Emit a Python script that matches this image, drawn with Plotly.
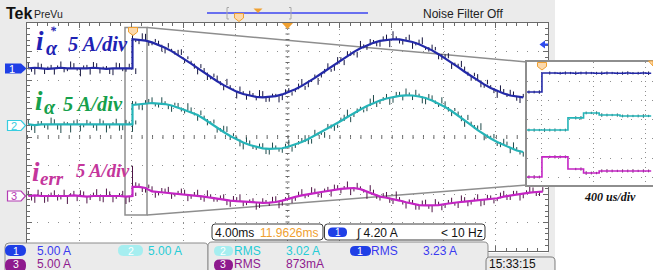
import plotly.graph_objects as go

W, H = 653, 270

# ---------------- data ----------------
T_STEP = 8.1      # ms, instant of the reference step (trigger)
DT = 0.5          # ms, sample spacing used for the readings
A_PER_DIV = 5.0   # all channels 5 A/div

# main window, values in A
ch1_pre = [0.0, 0.1, 0.0, -0.1, 0.0, 0.1, 0.0, 0.0, -0.1, 0.0, 0.1, 0.0, -0.1, 0.0, 0.0, 0.1, 0.0]
ch1_post = [5.10, 5.04, 4.85, 4.55, 4.14, 3.62, 3.02, 2.34, 1.61, 0.83,
            0.04, -0.75, -1.53, -2.27, -2.95, -3.56, -4.09, -4.51, -4.83, -5.02,
            -5.10, -5.05, -4.88, -4.58, -4.18, -3.68, -3.08, -2.41, -1.69, -0.91,
            -0.12, 0.67, 1.46, 2.20, 2.89, 3.50, 4.04, 4.47, 4.80, 5.01,
            5.10, 5.06, 4.90, 4.62, 4.23, 3.73, 3.15, 2.48, 1.76, 0.99,
            0.20, -0.60, -1.38, -2.12, -2.82, -3.45, -3.99, -4.43, -4.77, -4.99,
            -5.09]
ch2_pre = [0.1, 0.0, 0.1, 0.1, 0.0, 0.1, 0.0, 0.1, 0.1, 0.0, 0.1, 0.0, 0.1, 0.1, 0.0, 0.1, 0.1]
ch2_post = [3.51, 3.60, 3.77, 3.86, 3.77, 3.68, 3.42, 3.07, 2.63, 2.19,
            1.75, 1.05, 0.26, -0.53, -1.23, -1.93, -2.54, -3.07, -3.51, -3.86,
            -4.09, -4.18, -4.18, -4.07, -3.77, -3.42, -2.98, -2.46, -1.84, -1.23,
            -0.61, 0.09, 0.70, 1.40, 2.11, 2.72, 3.33, 3.86, 4.30, 4.65,
            4.91, 5.12, 5.21, 5.18, 5.00, 4.74, 4.30, 3.77, 3.16, 2.46,
            1.67, 0.88, 0.00, -0.88, -1.67, -2.37, -2.98, -3.51, -4.04, -4.47,
            -4.74]
ch3_pre = [0.0, 0.1, 0.0, 0.0, -0.1, 0.0, 0.0, 0.1, 0.0, -0.1, 0.0, 0.0, 0.1, 0.0, 0.0, -0.1, 0.0]
ch3_post = [1.6, 1.6, 1.4, 0.8, 0.7, 0.6, 0.5, 0.4, 0.3, 0.2,
            0.1, -0.1, -0.3, -0.5, -0.6, -0.8, -0.9, -1.0, -1.1, -1.2,
            -1.2, -1.15, -1.05, -0.8, -0.45, -0.15, 0.1, 0.35, 0.5, 0.7,
            0.9, 1.1, 1.25, 1.35, 1.4, 1.2, 0.8, 0.3, -0.1, -0.3,
            -0.5, -0.8, -1.1, -1.4, -1.6, -1.65, -1.65, -1.6, -1.4, -1.2,
            -1.1, -1.0, -0.9, -0.8, -0.7, -0.6, -0.4, -0.1, 0.1, 0.3,
            0.5, 0.6, 0.7, 0.75]

# raw-acquisition spikes around the traces (A): one set on the samples, one half a sample later
n1_pre = [1.0, -1.2, 0.8, 0.4, -1.1, 1.1, -0.5, 0.9, -1.3, 0.6, 1.0, -0.9, 0.5, -1.2, 0.9, -0.7, 1.1]
n1_post = [0.9, -0.8, 1.2, -0.5, 0.7, -1.0, 0.4, 0.9, -0.7, 0.5, -1.1, 0.8, -0.4, 1.0, -0.9, 0.6,
           -1.2, 0.5, 0.9, -0.6, 1.1, -0.8, 0.4, -1.0, 0.7, -0.5, 1.2, -0.9, 0.6, -0.7, 1.0, -1.1,
           0.5, 0.8, -0.6, 1.3, -0.8, 0.5, -1.0, 0.9, 1.4, -0.7, 0.6, -1.2, 0.8, -0.5, 1.0, -0.9,
           0.7, -1.1, 0.6, 0.9, -0.8, 1.1, -0.6, 0.5, -1.2, 0.8, 1.0, -0.7, 0.6]
n1b_pre = [-0.6, 0.9, -1.0, 0.7, 0.5, -0.8, 1.2, -0.4, 0.6, -1.1, 0.8, 0.3, -0.9, 1.0, -0.5, 0.7, -1.0]
n1b_post = [-0.5, 1.1, -0.9, 0.6, -1.2, 0.8, -0.6, 1.0, 0.5, -0.9, 0.7, -1.3, 0.6, -0.7, 1.1, -0.4,
            0.9, -1.0, 0.5, 1.2, -0.8, 0.6, -1.1, 0.9, -0.6, 1.0, -0.7, 0.5, -1.2, 0.8, -0.5, 1.3,
            -0.9, 0.6, -1.0, 0.7, 1.1, -0.6, 0.8, -1.3, 0.5, -0.9, 1.0, -0.6, 1.2, -0.8, 0.6, -1.0,
            0.9, -0.5, 1.1, -0.7, 0.6, -1.2, 0.8, -0.9, 1.0, -0.6, 0.7, -1.1, 0.5]
n2_pre = [0.8, -1.4, 0.6, -0.9, 1.0, -1.5, 0.5, 0.7, -1.2, 0.9, -0.6, 1.1, -1.4, 0.4, -1.0, 0.8, -1.3]
n2_post = [0.7, -0.9, 0.6, 1.0, -0.7, 0.5, -1.1, 0.8, -0.6, 0.9, -1.0, 0.6, 0.4, -0.8, 1.1, -0.7,
           0.5, -1.2, 0.8, -0.5, 0.9, -1.0, 0.6, -0.8, 1.2, -0.6, 0.7, -0.9, 1.0, -0.5, 0.8, -1.1,
           0.6, 1.3, -0.7, 0.5, -0.9, 1.4, -0.6, 0.8, -1.0, 0.7, 1.2, -0.8, 0.5, -1.1, 0.9, -0.6,
           1.0, -0.9, 0.7, -1.2, 0.6, 0.8, -1.0, 0.5, -0.7, 1.1, -0.9, 0.6, -0.8]
n2b_pre = [-1.0, 0.7, -0.6, 1.2, -0.8, 0.5, -1.3, 0.9, -0.5, 0.6, -1.1, 0.8, -0.7, 1.0, -0.9, 0.5, 0.7]
n2b_post = [0.6, -1.0, 0.8, -0.6, 1.1, -0.9, 0.5, -0.7, 1.2, -0.5, 0.8, -1.1, 0.7, -0.6, 1.0, 0.5,
            -1.2, 0.9, -0.7, 0.6, -1.0, 1.1, -0.5, 0.8, -0.9, 0.6, 1.2, -0.8, 0.5, -1.0, 0.7, -0.6,
            1.1, -0.9, 0.8, -0.5, 1.3, -0.7, 0.6, -1.1, 0.9, -0.8, 0.5, 1.0, -1.2, 0.7, -0.6, 1.1,
            -0.8, 0.5, -1.0, 0.9, -0.7, 1.2, -0.6, 0.8, -0.9, 0.6, 1.0, -0.7, 0.5]
n3_pre = [0.9, -1.3, 0.7, -1.0, 1.1, -0.6, -1.4, 0.8, 1.0, -1.2, 0.6, -0.9, 1.2, -1.1, 0.5, -1.3, 0.8]
n3_post = [3.7, 0.6, -0.8, 0.9, -0.6, 0.7, -1.0, 0.5, 0.8, -0.7, 1.0, -0.9, 0.6, -0.5, 0.9, -1.1,
           0.7, -0.8, 0.5, -1.2, 0.8, -0.6, 1.0, -0.9, 0.6, -0.7, 1.1, -0.5, 0.8, -1.0, 0.7, 0.9,
           -0.8, 1.2, -0.6, 0.5, -1.3, 0.8, -0.7, 1.0, -0.9, 0.6, -1.1, 0.7, -0.8, 1.0, -1.2, 0.6,
           -0.7, 0.9, -1.0, 0.8, -0.6, 1.1, -0.9, 0.7, -0.5, 1.0, -0.8, 0.6, -0.9, 1.1, -0.7, 0.8]
n3b_pre = [-0.8, 1.0, -1.2, 0.6, -0.7, 1.1, 0.5, -1.0, 0.8, -0.6, 1.2, -1.1, 0.7, -0.5, 0.9, -1.0, 0.6]
n3b_post = [0.8, -0.9, 0.6, -1.1, 0.7, 1.0, -0.6, 0.9, -1.2, 0.5, -0.8, 1.1, -0.7, 0.6, -1.0, 0.8,
            1.2, -0.6, 0.7, -0.9, 0.5, 1.0, -1.1, 0.6, -0.8, 0.9, -0.5, 1.2, -0.7, 0.6, -1.0, 0.8,
            0.5, -1.2, 0.9, -0.6, 1.1, -0.8, 0.6, -0.9, 1.3, -0.7, 0.5, -1.0, 0.8, -0.6, 1.1, -0.9,
            0.7, -0.5, 1.2, -0.8, 0.6, -1.0, 0.9, -0.7, 1.0, -0.6, 0.8, -1.1, 0.5, 0.9, -0.7, 0.6]

# zoomed inset (400 us/div), time relative to the step, values in A
ins_t = [-0.12, -0.08, -0.04, 0.00, 0.04, 0.08, 0.12, 0.16, 0.20, 0.24, 0.28, 0.32, 0.36,
         0.40, 0.44, 0.48, 0.52, 0.56, 0.60, 0.64, 0.68, 0.72, 0.76, 0.80, 0.84]
ins_ch1 = [0.0, 0.0, 0.0, 5.0, 5.0, 5.0, 4.95, 5.0, 5.0, 4.95, 5.0, 5.0, 5.0,
           4.95, 4.95, 5.0, 5.0, 4.95, 4.95, 5.0, 4.95, 4.95, 5.0, 4.95, 4.95]
ins_ch2 = [0.0, 0.0, 0.0, 0.0, 0.0, 0.0, 0.0, 0.0, 3.2, 3.2, 3.2, 4.5, 4.5,
           4.5, 3.95, 3.95, 3.95, 3.95, 3.7, 3.7, 3.7, 3.7, 3.7, 3.7, 3.7]
ins_ch3 = [0.0, 0.0, 0.0, 5.3, 5.3, 5.3, 5.3, 5.3, 2.1, 2.1, 2.1, 1.05, 1.05,
           1.05, 1.6, 1.6, 1.6, 1.6, 1.6, 1.6, 1.6, 1.6, 1.6, 1.6, 1.6]
ins_n1 = [0.8, 0.7, 0.9, 0.0, 0.8, 0.6, 0.7, 0.8, 0.6, 0.9, 0.7, 0.8, 0.6, 0.7, 0.9, 0.8, 0.6, 0.7, 0.8, 0.9, 0.6, 0.7, 0.8, 0.9, 0.6]
ins_n2 = [0.7, 0.8, 0.6, 0.9, 0.7, 0.8, 0.6, 0.7, 0.0, 0.8, 0.9, 0.7, 0.6, 0.8, 0.9, 0.7, 0.6, 0.8, 0.7, 0.8, 0.6, 0.7, 0.9, 0.6, 0.8]
ins_n3 = [0.8, 0.9, 0.7, 0.0, 0.6, 0.8, 0.7, 0.7, 0.0, 0.6, 0.8, 0.9, 0.7, 0.6, 0.8, 0.9, 0.7, 0.6, 0.8, 0.7, 0.9, 0.6, 0.8, 0.7, 0.6]

# readouts
scale_labels = ["5.00 A", "5.00 A", "5.00 A"]
rms_labels = ["3.23 A", "3.02 A", "873mA"]
time_div = "4.00ms"
h_pos = "11.9626ms"
trig_level = "4.20 A"
trig_freq = "< 10 Hz"
clock = "15:33:15"

# ---------------- styling ----------------
OFF_MAIN = (2.41, 0.42, -2.07)   # channel ground positions, divisions
OFF_INS = (4.47, 2.47, 0.0)
C_LINE = ("#2329a8", "#25b4b8", "#c424c4")
C_RAW = ("#14143e", "#1e4a4a", "#4e1446")
C_LAB = ("#1e22b4", "#16a04c", "#c4369c")
GRID = "#8f8f8f"
BORDER = "#6a6a6a"
FRAME = "#ebebeb"
ORANGE = "#f0a030"
SANS = "Liberation Sans Narrow, Liberation Sans, Arial, sans-serif"
SERIF = "Liberation Serif, Times New Roman, serif"


def px(x):
    return x / W


def py(y):
    return 1 - y / H


def series(pre, post):
    t = [T_STEP - DT * (len(pre) - 1 - i) for i in range(len(pre))]
    t += [T_STEP + DT * i for i in range(len(post))]
    return t, pre + post


def spikes(t, v, n, off, shift=0.0, centered=False):
    xs, ys = [], []
    for ti, vi, ni in zip(t, v, n):
        base = off + vi / A_PER_DIV
        if centered:
            y0, y1 = base - ni / (2 * A_PER_DIV), base + ni / (2 * A_PER_DIV)
        else:
            y0, y1 = base, base + ni / A_PER_DIV
        xs += [ti + shift, ti + shift, None]
        ys += [y0, y1, None]
    return xs, ys


fig = go.Figure()

main = [(ch1_pre, ch1_post, n1_pre + n1_post, n1b_pre + n1b_post),
        (ch2_pre, ch2_post, n2_pre + n2_post, n2b_pre + n2b_post),
        (ch3_pre, ch3_post, n3_pre + n3_post, n3b_pre + n3b_post)]
for k, (pre, post, na, nb) in enumerate(main):
    t, v = series(pre, post)
    sx, sy = spikes(t, v, na, OFF_MAIN[k])
    bx, by = spikes(t[:-1], v[:-1], nb, OFF_MAIN[k], shift=DT / 2)
    fig.add_trace(go.Scatter(x=sx + bx, y=sy + by, mode="lines",
                             line=dict(color=C_RAW[k], width=1),
                             xaxis="x", yaxis="y", hoverinfo="skip"))
    fig.add_trace(go.Scatter(x=t, y=[OFF_MAIN[k] + a / A_PER_DIV for a in v], mode="lines",
                             line=dict(color=C_LINE[k], width=2.2), xaxis="x", yaxis="y",
                             hoverinfo="skip"))

for k, (vals, nz) in enumerate([(ins_ch1, ins_n1), (ins_ch2, ins_n2), (ins_ch3, ins_n3)]):
    sx, sy = spikes(ins_t, vals, nz, OFF_INS[k], shift=0.02, centered=True)
    fig.add_trace(go.Scatter(x=sx, y=sy, mode="lines", line=dict(color=C_RAW[k], width=1),
                             xaxis="x2", yaxis="y2", hoverinfo="skip"))
    fig.add_trace(go.Scatter(x=ins_t, y=[OFF_INS[k] + a / A_PER_DIV for a in vals], mode="lines",
                             line=dict(color=C_LINE[k], width=1.6, shape="hv"),
                             xaxis="x2", yaxis="y2", hoverinfo="skip"))

shapes = []


def prect(x0, y0, x1, y1, fill=None, line=None, lw=1, layer="below"):
    shapes.append(dict(type="rect", xref="paper", yref="paper", x0=px(x0), x1=px(x1),
                       y0=py(y1), y1=py(y0), fillcolor=fill or "rgba(0,0,0,0)",
                       line=dict(color=line or "rgba(0,0,0,0)", width=lw if line else 0),
                       layer=layer))


def pline(x0, y0, x1, y1, color, lw=1, dash="solid", layer="below"):
    shapes.append(dict(type="line", xref="paper", yref="paper", x0=px(x0), y0=py(y0),
                       x1=px(x1), y1=py(y1), line=dict(color=color, width=lw, dash=dash),
                       layer=layer))


def ppath(points, fill=None, line=None, lw=1, layer="below", close=True):
    d = "M" + " L".join(f"{px(x):.5f},{py(y):.5f}" for x, y in points)
    if close:
        d += " Z"
    shapes.append(dict(type="path", xref="paper", yref="paper", path=d,
                       fillcolor=fill or "rgba(0,0,0,0)",
                       line=dict(color=line or "rgba(0,0,0,0)", width=lw if line else 0),
                       layer=layer))


def rrect(x0, y0, x1, y1, r, fill, line=None, lw=1, layer="above"):
    def P(x, y):
        return f"{px(x):.5f},{py(y):.5f}"
    d = (f"M{P(x0 + r, y0)} L{P(x1 - r, y0)} Q{P(x1, y0)} {P(x1, y0 + r)} "
         f"L{P(x1, y1 - r)} Q{P(x1, y1)} {P(x1 - r, y1)} L{P(x0 + r, y1)} "
         f"Q{P(x0, y1)} {P(x0, y1 - r)} L{P(x0, y0 + r)} Q{P(x0, y0)} {P(x0 + r, y0)} Z")
    shapes.append(dict(type="path", xref="paper", yref="paper", path=d, fillcolor=fill,
                       line=dict(color=line or "rgba(0,0,0,0)", width=lw if line else 0),
                       layer=layer))


# frame & screen background
prect(0, 0, 555, 270, fill=FRAME)
prect(27, 23, 548, 253, fill="white")
# zoom window box and connecting lines
prect(125, 27.5, 147, 215, line="#8e8e8e", lw=1.5)
pline(147, 27.5, 527, 62, "#8e8e8e", 1.5)
pline(147, 215, 527, 185, "#8e8e8e", 1.5)

# center cross tick marks (below inset)
shapes.append(dict(type="line", xref="x", yref="y", x0=20, x1=20, y0=-4, y1=4,
                   line=dict(color=BORDER, width=4, dash="1px,4.7px"), layer="below"))
shapes.append(dict(type="line", xref="x", yref="y", x0=0, x1=40, y0=0, y1=0,
                   line=dict(color=BORDER, width=4, dash="1px,9.42px"), layer="below"))
# inset white backing (drawn in the inset subplot, above the main subplot)
shapes.append(dict(type="rect", xref="x2", yref="y2", x0=-0.115, x1=0.854, y0=-0.42, y1=6.05,
                   fillcolor="white", line=dict(width=0), layer="below"))

# top bar
pline(207, 13, 368, 13, "#3c46f0", 1.4)
ppath([(229, 7.5), (227, 7.5), (227, 19), (229, 19)], line="#a8a8a8", lw=1, close=False)
ppath([(289, 7.5), (291, 7.5), (291, 19), (289, 19)], line="#a8a8a8", lw=1, close=False)
ppath([(253.5, 8.5), (262.5, 8.5), (258, 13)], fill=ORANGE)
ppath([(234.5, 13.5), (243.5, 13.5), (243.5, 18), (239, 21.5), (234.5, 18)], fill="#fcd9ac", line=ORANGE)
# markers on screen
ppath([(282, 23), (293, 23), (287.5, 29)], fill=ORANGE, layer="above")
ppath([(128.5, 27.5), (137.5, 27.5), (137.5, 32), (133, 35.5), (128.5, 32)], fill="#fcd9ac", line=ORANGE, layer="above")
ppath([(537.5, 62.5), (546.5, 62.5), (546.5, 66.5), (542, 70), (537.5, 66.5)], fill="#fcd9ac", line=ORANGE, layer="above")
ppath([(648.5, 61), (653, 61), (653, 66)], fill="#fcd9ac", line=ORANGE, layer="above")
ppath([(539.5, 44.5), (545, 40.5), (545, 48.5)], fill="#2f4cf0", layer="above")
pline(545, 44.5, 548, 44.5, "#2f4cf0", 2, layer="above")

# channel ground markers
ppath([(5, 63.5), (21, 63.5), (26.5, 68.5), (21, 73.5), (5, 73.5)], fill="#1f3fe6")
ppath([(7.5, 120.5), (21, 120.5), (25.5, 125.5), (21, 130.5), (7.5, 130.5)], fill="white", line="#38cde0", lw=1.2)
ppath([(7.5, 191), (21, 191), (25.5, 196), (21, 201), (7.5, 201)], fill="white", line="#b43cb4", lw=1.2)

# readout boxes and panels
rrect(212, 224, 323, 240, 3, "white", "#3c3c3c", 1)
rrect(324.5, 224, 485, 240, 3, "white", "#3c3c3c", 1)
rrect(328, 227.5, 347, 237, 4.5, "#1f3fe6")
rrect(5, 243, 208, 278, 4, FRAME, "#8c8c8c", 1)
rrect(208, 242, 488, 278, 4, FRAME, "#8c8c8c", 1)
rrect(486, 257, 555, 278, 4, FRAME, "#7c7c7c", 1)
rrect(5, 245, 26, 256, 5.5, "#1f3fe6")
rrect(118, 245, 143, 256, 5.5, "#a6eef0")
rrect(5, 259, 26, 272, 6, "#8e1a8e")
rrect(214, 246, 233, 256, 5, "#a6eef0")
rrect(350, 246, 371, 256, 5, "#1f3fe6")
rrect(214, 259.5, 233, 271, 5.5, "#8e1a8e")

ann = []


def txt(x, y, s, size, color, family=SANS, xanchor="left"):
    ann.append(dict(x=px(x), y=py(y), xref="paper", yref="paper", text=s, showarrow=False,
                    xanchor=xanchor, yanchor="middle", font=dict(size=size, color=color, family=family),
                    borderpad=0))


txt(5, 13.5, "<b>Tek</b>", 16, "#111111", "Liberation Sans, Arial, sans-serif")
txt(33, 14.5, "PreVu", 10.5, "#222222")
txt(422, 14.5, "Noise Filter Off", 12, "#222222")
txt(12.5, 68.5, "1", 11, "white", xanchor="center")
txt(14, 125.5, "2", 11, "#38cde0", xanchor="center")
txt(14, 196, "3", 11, "#b43cb4", xanchor="center")

# channel labels
txt(35, 41, "<b><i>i</i></b>", 27, C_LAB[0], SERIF)
txt(45, 48.5, "<b><i>α</i></b>", 20, C_LAB[0], SERIF)
txt(49, 31, "<b><i>*</i></b>", 12, C_LAB[0], SERIF)
txt(67, 44, "<b><i>5 A/div</i></b>", 20.5, C_LAB[0], SERIF)
txt(34, 101, "<b><i>i</i></b>", 27, C_LAB[1], SERIF)
txt(43, 107, "<b><i>α</i></b>", 20, C_LAB[1], SERIF)
txt(62, 104, "<b><i>5 A/div</i></b>", 20.5, C_LAB[1], SERIF)
txt(31, 172, "<b><i>i</i></b>", 27, C_LAB[2], SERIF)
txt(39, 178, "<b><i>err</i></b>", 19, C_LAB[2], SERIF)
txt(75, 171, "<b><i>5 A/div</i></b>", 18.5, C_LAB[2], SERIF)
txt(610, 197, "<b><i>400 us/div</i></b>", 12, "#111111", SERIF, xanchor="center")

# readouts
txt(214, 232.5, time_div, 12, "#111111")
txt(259, 232.5, h_pos, 12, ORANGE)
txt(337.5, 232.5, "1", 10, "white", xanchor="center")
txt(355, 232.5, "∫ " + trig_level, 12, "#111111")
txt(484, 232.5, trig_freq, 12, "#111111", xanchor="right")
txt(15.5, 250.5, "1", 10.5, "white", xanchor="center")
txt(36, 250.5, scale_labels[0], 12, "#3a3af0")
txt(130.5, 250.5, "2", 10.5, "white", xanchor="center")
txt(147, 250.5, scale_labels[1], 12, "#26ccd6")
txt(15.5, 264, "3", 10.5, "white", xanchor="center")
txt(36, 264, scale_labels[2], 12, "#8e1a8e")
txt(223, 251, "2", 10.5, "white", xanchor="center")
txt(233, 251, "RMS", 12, "#26ccd6")
txt(285, 251, rms_labels[1], 12, "#26ccd6")
txt(360, 251, "1", 10.5, "white", xanchor="center")
txt(370, 251, "RMS", 12, "#3a3af0")
txt(422, 251, rms_labels[0], 12, "#3a3af0")
txt(223, 264, "3", 10.5, "white", xanchor="center")
txt(233, 264, "RMS", 12, "#8e1a8e")
txt(285, 264, rms_labels[2], 12, "#8e1a8e")
txt(488, 264, clock, 12, "#111111")

fig.update_layout(
    width=W, height=H, margin=dict(l=0, r=0, t=0, b=0),
    paper_bgcolor="white", plot_bgcolor="rgba(0,0,0,0)",
    showlegend=False, hovermode=False,
    xaxis=dict(domain=[px(27), px(548)], range=[0, 40], dtick=4, tick0=0,
               showgrid=True, gridcolor=GRID, gridwidth=1, griddash="1px,4.7px",
               zeroline=False, showline=True, linecolor=BORDER, linewidth=1,
               mirror="allticks", ticks="inside", ticklen=5, tickcolor=BORDER,
               showticklabels=False, fixedrange=True,
               minor=dict(dtick=0.8, tick0=0, ticks="inside", ticklen=3, tickcolor=BORDER,
                          showgrid=False)),
    yaxis=dict(domain=[py(251), py(23)], range=[-4, 4], dtick=1, tick0=0,
               showgrid=True, gridcolor=GRID, gridwidth=1, griddash="1px,9.42px",
               zeroline=False, showline=True, linecolor=BORDER, linewidth=1,
               mirror="allticks", ticks="inside", ticklen=5, tickcolor=BORDER,
               showticklabels=False, fixedrange=True,
               minor=dict(dtick=0.2, tick0=0, ticks="inside", ticklen=3, tickcolor=BORDER,
                          showgrid=False)),
    xaxis2=dict(domain=[px(527), 1.0], range=[-0.115, 0.854], dtick=0.4, tick0=0,
                anchor="y2", showgrid=True, gridcolor=GRID, griddash="1px,3.75px",
                zeroline=False, showline=True, linecolor="#8e8e8e", linewidth=1.5,
                mirror=True, ticks="", showticklabels=False, fixedrange=True),
    yaxis2=dict(domain=[py(185), py(62)], range=[-0.42, 6.05], dtick=1, tick0=0,
                anchor="x2", showgrid=True, gridcolor=GRID, griddash="1px,9.4px",
                zeroline=False, showline=True, linecolor="#8e8e8e", linewidth=1.5,
                mirror=False, ticks="", showticklabels=False, fixedrange=True),
    shapes=shapes, annotations=ann,
)

fig.write_html("out.html", config={"displayModeBar": False},
               post_script="document.body.style.margin='0';document.body.style.overflow='hidden';")
